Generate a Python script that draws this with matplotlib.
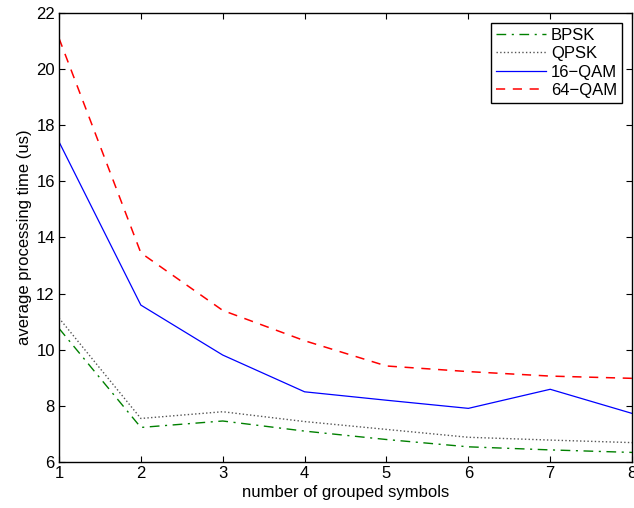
import matplotlib
matplotlib.use("Agg")
import matplotlib.pyplot as plt

# number of grouped symbols
group_sizes = [1, 2, 3, 4, 5, 6, 7, 8]

# average processing time (us) per modulation
bpsk = [10.76, 7.23, 7.46, 7.10, 6.80, 6.54, 6.43, 6.34]
qpsk = [11.13, 7.55, 7.79, 7.44, 7.16, 6.88, 6.78, 6.69]
qam16 = [17.41, 11.59, 9.81, 8.50, 8.20, 7.91, 8.59, 7.73]
qam64 = [21.10, 13.45, 11.40, 10.32, 9.42, 9.22, 9.06, 8.98]

y_ticks = [6, 8, 10, 12, 14, 16, 18, 20, 22]

plt.rcParams['font.family'] = ['Liberation Sans', 'DejaVu Sans']

fig = plt.figure(figsize=(6.34, 5.08), dpi=100)
ax = fig.add_axes([0.093, 0.0906, 0.904, 0.884])

ax.plot(group_sizes, bpsk, color='#008000', linestyle='-.', linewidth=1.0, label='BPSK',
        dashes=(7, 4, 1.5, 4))
ax.plot(group_sizes, qpsk, color='#555555', linestyle=':', linewidth=1.0, label='QPSK')
ax.plot(group_sizes, qam16, color='#0000ff', linestyle='-', linewidth=0.9, label='16\u2212QAM')
ax.plot(group_sizes, qam64, color='#ff0000', linestyle='--', linewidth=1.1, label='64\u2212QAM',
        dashes=(6, 5))

ax.set_xlim(1, 8)
ax.set_ylim(6, 22)
ax.set_xticks(group_sizes)
ax.set_yticks(y_ticks)
ax.tick_params(direction='in', top=True, right=True, labelsize=12, length=4, pad=3)
for s in ax.spines.values():
    s.set_linewidth(1.0)

ax.set_xlabel('number of grouped symbols', fontsize=12, labelpad=3)
ax.set_ylabel('average processing time (us)', fontsize=12, labelpad=3)

leg = ax.legend(loc='upper right', fontsize=12, frameon=True, fancybox=False,
                edgecolor='black', framealpha=1, handlelength=3.0,
                borderaxespad=0.6, labelspacing=0.2, handletextpad=0.3,
                borderpad=0.3)
leg.get_frame().set_linewidth(1.0)

fig.savefig('out.png', dpi=100)
